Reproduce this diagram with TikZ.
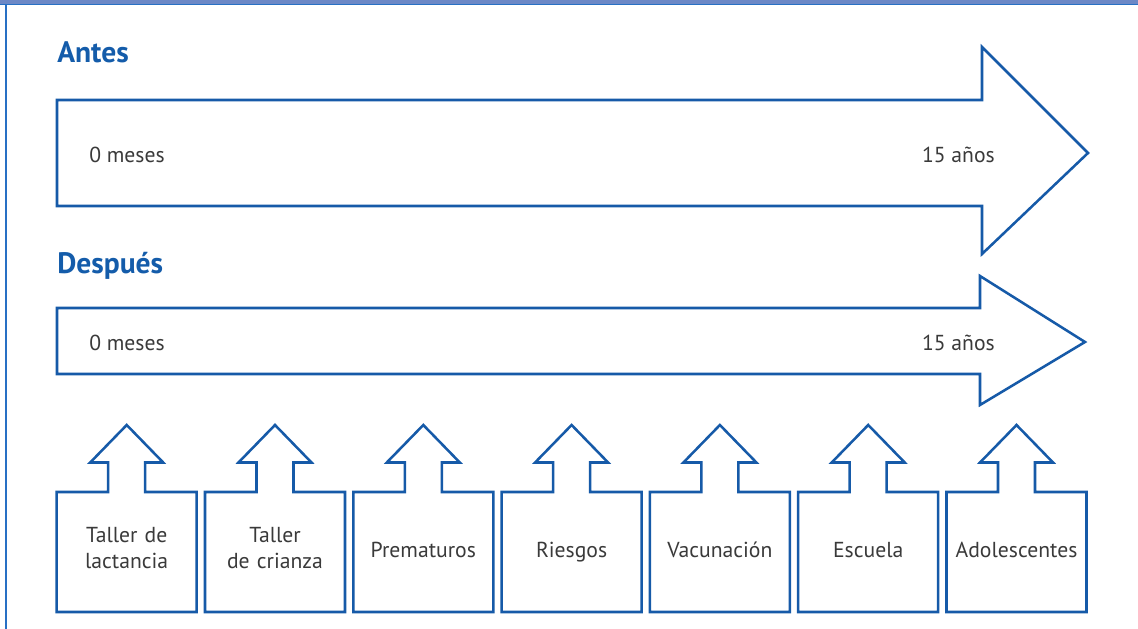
\documentclass[tikz,border=0pt]{standalone}
\usepackage{fontspec}
\setmainfont{PT Sans}
\definecolor{lineblue}{RGB}{22,90,168}
\definecolor{titleblue}{RGB}{20,92,170}
\definecolor{barblue}{RGB}{108,136,198}
\definecolor{edgeblue}{RGB}{40,112,196}
\definecolor{textgray}{RGB}{58,58,58}
\begin{document}
\begin{tikzpicture}[x=0.025cm,y=-0.025cm,
    outline/.style={draw=lineblue,line width=1.8pt,line join=miter,fill=white},
    ttl/.style={font=\fontsize{21}{24}\selectfont\bfseries,text=titleblue,anchor=west,inner sep=0pt},
    lbl/.style={font=\fontsize{15.4}{19}\selectfont,text=textgray,inner sep=0pt},
    boxlbl/.style={lbl,align=center,text width=3.2cm}]
    \useasboundingbox (0,0) rectangle (1138,629);
    % frame
    \fill[barblue] (0,0) rectangle (1138,4);
    \draw[edgeblue,line width=1pt] (0,4.5) -- (1138,4.5);
    \draw[edgeblue,line width=1.2pt] (6,4) -- (6,629);
    % before
    \node[ttl] (antes) at (57,52) {Antes};
    \draw[outline] (57,100) -- (982,100) -- (982,47) -- (1088,153) -- (982,254) -- (982,206) -- (57,206) -- cycle;
    \node[lbl,anchor=west] (inicioA) at (89,155) {0 meses};
    \node[lbl,anchor=east] (finA) at (995,155) {15 años};
    % after
    \node[ttl] (despues) at (57,266) {Después};
    \draw[outline] (57,308) -- (980,308) -- (980,276) -- (1085,342) -- (980,405) -- (980,374) -- (57,374) -- cycle;
    \node[lbl,anchor=west] (inicioD) at (89,343) {0 meses};
    \node[lbl,anchor=east] (finD) at (995,343) {15 años};
    % programs
    \foreach \txt [count=\i from 0] in {Taller de\\lactancia,Taller\\de crianza,Prematuros,Riesgos,Vacunación,Escuela,Adolescentes}{
        \pgfmathsetmacro{\xl}{56.7+148.3*\i}
        \pgfmathsetmacro{\xc}{\xl+70}
        \draw[outline] (\xl,612) -- (\xl,492) -- (\xc-18.5,492) -- (\xc-18.5,462.5) -- (\xc-36.5,462.5)
            -- (\xc,425) -- (\xc+36.5,462.5) -- (\xc+18.5,462.5) -- (\xc+18.5,492) -- (\xl+140,492)
            -- (\xl+140,612) -- cycle;
        \node[boxlbl] (prog\i) at (\xc,552) {\txt\strut};
    }
\end{tikzpicture}
\end{document}
